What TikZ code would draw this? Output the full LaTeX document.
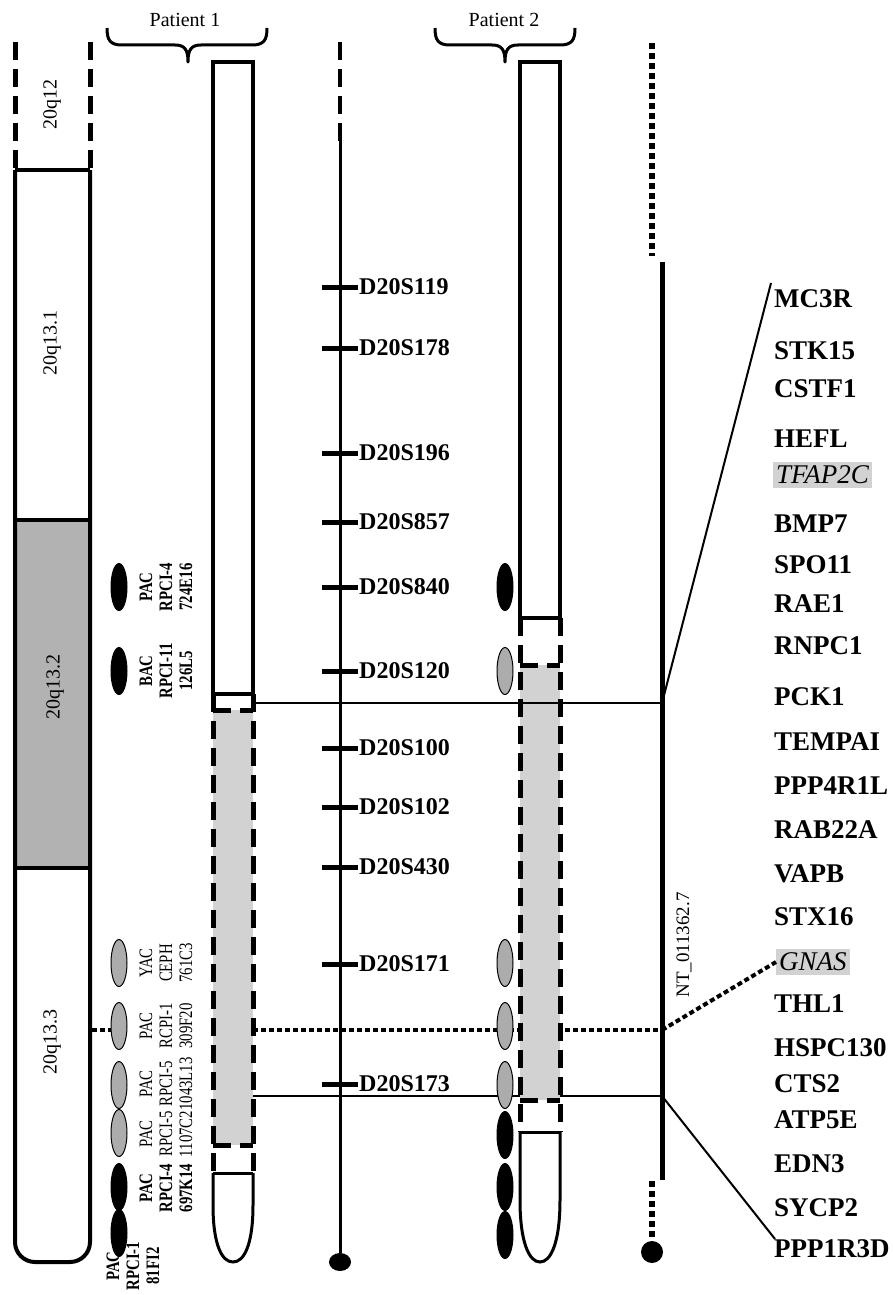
\documentclass[tikz,border=0pt]{standalone}
\usepackage{fontspec}
\setmainfont{Liberation Serif}
\usetikzlibrary{shapes.geometric}
\begin{document}
\begin{tikzpicture}[x=1pt,y=-1pt,
  chrom/.style={line width=4pt},
  dside/.style={line width=5pt, dash pattern=on 18pt off 9pt},
  sqdot/.style={line width=6pt, dash pattern=on 6pt off 4pt},
  hdot/.style={line width=4pt, dash pattern=on 5pt off 3pt},
  link/.style={line width=2pt},
  brace/.style={line width=3pt, line join=round},
  bclone/.style={ellipse, draw=black, fill=black, line width=1pt, minimum width=16pt, minimum height=47pt, inner sep=0pt},
  gclone/.style={bclone, fill=gray!65},
  clbl/.style={rotate=90, xscale=0.78, align=center, inner sep=0pt, font=\fontsize{19}{20}\selectfont},
  clblb/.style={clbl, font=\fontsize{19}{20}\selectfont\bfseries},
  mk/.style={anchor=west, inner sep=1pt, font=\fontsize{24}{28}\selectfont\bfseries},
  gn/.style={anchor=west, inner sep=1pt, font=\fontsize{27}{30}\selectfont\bfseries},
  gnh/.style={anchor=west, inner xsep=3pt, inner ysep=4pt, fill=gray!35, font=\fontsize{27}{30}\selectfont\itshape},
  band/.style={rotate=90, inner sep=0pt, font=\fontsize{20}{24}\selectfont},
  tick/.style={line width=5pt},
]
\useasboundingbox (0,0) rectangle (893,1295);

% ---------- left chromosome ----------
\fill[gray!60] (15,520) rectangle (90,868);
\draw[dside] (15,42) -- (15,170);
\draw[dside] (90,42) -- (90,170);
\draw[chrom] (15,170) -- (90,170);
\draw[chrom] (15,520) -- (90,520);
\draw[chrom] (15,868) -- (90,868);
\draw[chrom, rounded corners=20pt] (15,170) -- (15,1262) -- (90,1262) -- (90,170);
\node[band] (b1) at (52,105) {20q12};
\node[band] (b2) at (52,343) {20q13.1};
\node[band] (b3) at (55,687) {20q13.2};
\node[band] (b4) at (52,1042) {20q13.3};

% ---------- coordinates for connectors ----------
\coordinate (p1a) at (253,703);
\coordinate (p1b) at (253,1096);
\coordinate (p1c) at (253,1030);
\coordinate (lc) at (92,1030);
\coordinate (nta) at (662,703);
\coordinate (ntb) at (662,1096);
\coordinate (ntc) at (660,1030);
\coordinate (ntc2) at (662,1030);

% lines lying under the chromosomes
\draw[link] (p1b) -- (ntb);
\draw[hdot] (p1c) -- (ntc);

% ---------- patient 1 chromosome ----------
\fill[gray!35] (213,710) rectangle (253,1145);
\draw[chrom] (213,62) rectangle (253,694);
\draw[dside] (213,694) -- (213,1173);
\draw[dside] (253,694) -- (253,1173);
\draw[dside] (213,710) -- (253,710);
\draw[dside] (213,1145) -- (253,1145);
\draw[line width=3pt] (213,1173) -- (253,1173);
\draw[line width=3pt] (213,1173) -- (213,1205) .. controls (213,1245) and (222,1262) .. (233,1262) .. controls (244,1262) and (253,1245) .. (253,1205) -- (253,1173);

% ---------- patient 2 chromosome ----------
\fill[gray!35] (520,665) rectangle (560,1100);
\draw[chrom] (520,62) rectangle (560,618);
\draw[dside] (520,618) -- (520,1132);
\draw[dside] (560,618) -- (560,1132);
\draw[dside] (520,665) -- (560,665);
\draw[dside] (520,1100) -- (560,1100);
\draw[line width=3pt] (520,1132) -- (560,1132);
\draw[line width=3pt] (520,1132) -- (520,1200) .. controls (520,1242) and (529,1262) .. (540,1262) .. controls (551,1262) and (560,1242) .. (560,1200) -- (560,1132);

% line above chromosomes
\draw[link] (p1a) -- (nta);

% ---------- braces ----------
\draw[brace] (107,28) .. controls (107,40) and (110,45) .. (122,45) -- (175,45) .. controls (185,45) and (188,50) .. (188,62)
  .. controls (188,50) and (191,45) .. (201,45) -- (252,45) .. controls (264,45) and (267,40) .. (267,28);
\draw[brace] (435,28) .. controls (435,40) and (438,45) .. (450,45) -- (492,45) .. controls (502,45) and (505,50) .. (505,62)
  .. controls (505,50) and (508,45) .. (518,45) -- (560,45) .. controls (572,45) and (575,40) .. (575,28);
\node[font=\fontsize{20}{24}\selectfont] (pt1) at (185,20) {Patient 1};
\node[font=\fontsize{20}{24}\selectfont] (pt2) at (504,20) {Patient 2};

% ---------- marker line ----------
\draw[dside, line width=4pt] (340,42) -- (340,142);
\node[ellipse, fill=black, minimum width=22pt, minimum height=18pt, inner sep=0pt] (mbot) at (340,1262) {};
\coordinate (mtop) at (340,140);
\draw[line width=3pt] (mtop) -- (mbot);
\foreach \y/\t in {287/D20S119, 348/D20S178, 453/D20S196, 522/D20S857, 587/D20S840, 671/D20S120, 748/D20S100, 807/D20S102, 867/D20S430, 964/D20S171, 1084/D20S173}{
  \draw[tick] (322,\y) -- (358,\y);
  \node[mk] (m\t) at (358,\y) {\t};
}

% ---------- NT contig line ----------
\coordinate (ntt) at (662,262);
\coordinate (ntbot) at (662,1180);
\draw[line width=5pt] (ntt) -- (ntbot);
\coordinate (dt1) at (652,43);
\coordinate (dt2) at (652,256);
\draw[sqdot] (dt1) -- (dt2);
\node[circle, fill=black, minimum size=22pt, inner sep=0pt] (ntcirc) at (652,1252) {};
\coordinate (db1) at (652,1181);
\draw[sqdot] (db1) -- (ntcirc.north);
\node[rotate=90, inner sep=0pt, font=\fontsize{19}{22}\selectfont] (ntlbl) at (684,945) {NT\_011362.7};

% ---------- clones, patient 1 ----------
\draw[hdot] (lc) -- (119,1030);
\node[bclone] (c1) at (119,587) {};
\node[bclone] (c2) at (119,671) {};
\node[gclone] (c3) at (119,963) {};
\node[gclone] (c4) at (119,1026) {};
\node[gclone] (c5) at (119,1085) {};
\node[gclone] (c6) at (119,1133) {};
\node[bclone] (c7) at (119,1187) {};
\node[bclone] (c8) at (119,1233) {};
\node[clblb] (l1) at (166,587) {PAC\\RPCI-4\\724E16};
\node[clblb] (l2) at (166,671) {BAC\\RPCI-11\\126L5};
\node[clbl] (l3) at (166,963) {YAC\\CEPH\\761C3};
\node[clbl] (l4) at (166,1026) {PAC\\RCPI-1\\309F20};
\node[clbl] (l5) at (166,1084) {PAC\\RPCI-5\\1043L13};
\node[clbl] (l6) at (166,1134) {PAC\\RPCI-5\\1107C2};
\node[clblb] (l7) at (166,1188) {PAC\\RPCI-4\\697K14};
\node[clblb] (l8) at (133,1266) {PAC\\RPCI-1\\81FI2};

% ---------- clones, patient 2 ----------
\node[bclone] (d1) at (505,587) {};
\node[gclone] (d2) at (505,671) {};
\node[gclone] (d3) at (505,963) {};
\node[gclone] (d4) at (505,1026) {};
\node[gclone] (d5) at (505,1085) {};
\node[bclone] (d6) at (505,1135) {};
\node[bclone] (d7) at (505,1187) {};
\node[bclone] (d8) at (505,1235) {};

% ---------- genes ----------
\node[gn] (g1) at (773,299) {MC3R};
\node[gn] (g2) at (773,351) {STK15};
\node[gn] (g3) at (773,389) {CSTF1};
\node[gn] (g4) at (773,439) {HEFL};
\node[gnh] (g5) at (773,475) {TFAP2C};
\node[gn] (g6) at (773,524) {BMP7};
\node[gn] (g7) at (773,565) {SPO11};
\node[gn] (g8) at (773,604) {RAE1};
\node[gn] (g9) at (773,646) {RNPC1};
\node[gn] (g10) at (773,697) {PCK1};
\node[gn] (g11) at (773,742) {TEMPAI};
\node[gn] (g12) at (773,786) {PPP4R1L};
\node[gn] (g13) at (773,830) {RAB22A};
\node[gn] (g14) at (773,874) {VAPB};
\node[gn] (g15) at (773,917) {STX16};
\node[gnh] (g16) at (776,962) {GNAS};
\node[gn] (g17) at (773,1004) {THL1};
\node[gn] (g18) at (773,1048) {HSPC130};
\node[gn] (g19) at (773,1084) {CTS2};
\node[gn] (g20) at (773,1120) {ATP5E};
\node[gn] (g21) at (773,1164) {EDN3};
\node[gn] (g22) at (773,1208) {SYCP2};
\node[gn] (g23) at (773,1249) {PPP1R3D};

\coordinate (gtop) at (771,283);
\coordinate (gbot) at (775,1239);
\draw[link] (nta) -- (gtop);
\draw[hdot] (ntc2) -- (g16.west);
\draw[link] (ntb) -- (gbot);
\end{tikzpicture}
\end{document}
